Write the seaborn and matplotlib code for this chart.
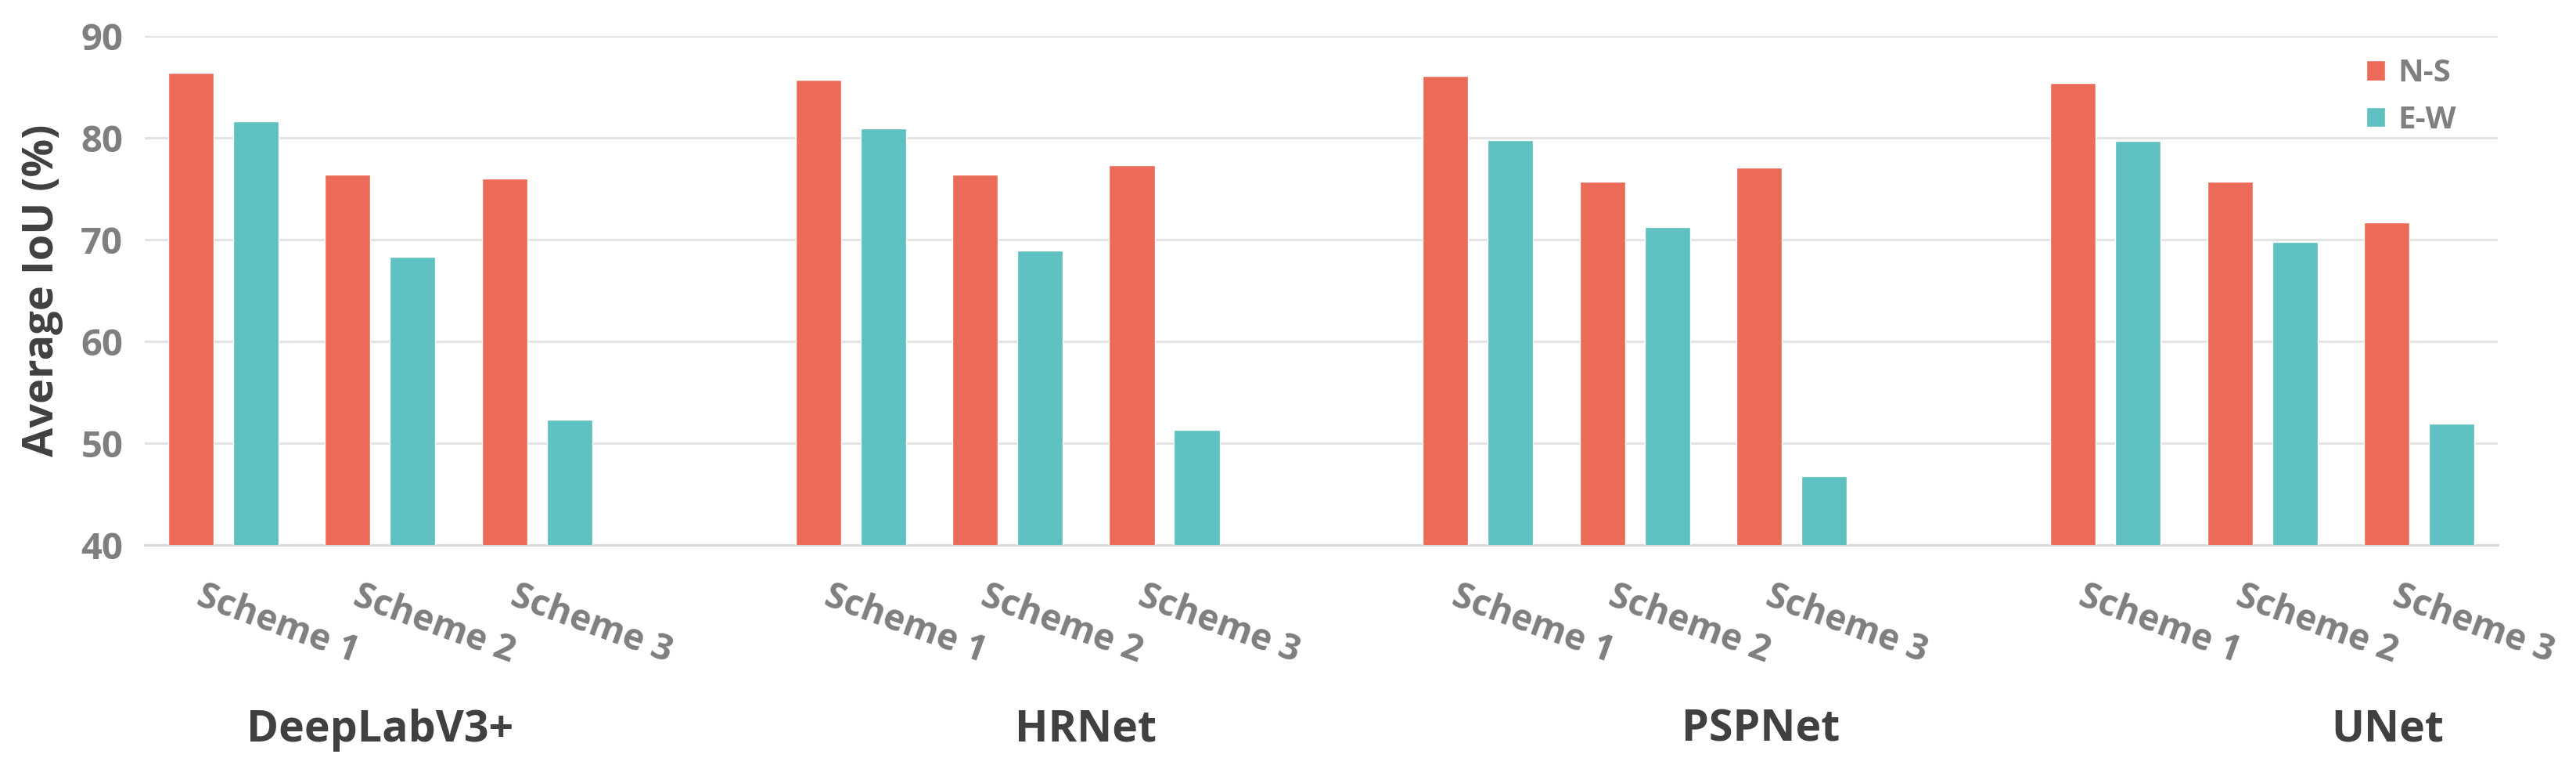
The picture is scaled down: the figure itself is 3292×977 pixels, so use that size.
import numpy as np
import pandas as pd
import seaborn as sns
import matplotlib.pyplot as plt
from matplotlib.transforms import ScaledTranslation, blended_transform_factory

# values
models = ['DeepLabV3+', 'HRNet', 'PSPNet', 'UNet']
schemes = ['Scheme 1', 'Scheme 2', 'Scheme 3']
ns_iou = [86.4, 76.4, 76.0,
          85.7, 76.4, 77.3,
          86.1, 75.7, 77.1,
          85.4, 75.7, 71.7]
ew_iou = [81.6, 68.3, 52.3,
          80.9, 68.9, 51.3,
          79.8, 71.2, 46.8,
          79.7, 69.8, 51.9]
model_label_pos = [1.0, 5.5, 9.8, 13.8]

# slot order: three schemes per model, an empty slot between models
order = []
tick_text = []
for i, m in enumerate(models):
    for s in schemes:
        order.append(m + ' ' + s)
        tick_text.append(s)
    if i < len(models) - 1:
        order.append('gap %d' % i)
        tick_text.append('')

keys = [m + ' ' + s for m in models for s in schemes]
df = pd.DataFrame({
    'slot': keys * 2,
    'dir': ['N-S'] * len(keys) + ['E-W'] * len(keys),
    'iou': ns_iou + ew_iou,
})

sns.set_theme(style='white')
plt.rcParams['font.family'] = ['Open Sans', 'DejaVu Sans']
plt.rcParams['font.weight'] = 'bold'

fig = plt.figure(figsize=(32.92, 9.77), dpi=100)
ax = fig.add_axes([0.0562, 0.2876, 0.9134, 0.6653])

sns.barplot(data=df, x='slot', y='iou', hue='dir', order=order,
            hue_order=['N-S', 'E-W'], palette=['#EB6B58', '#5EC0C0'],
            width=0.828, gap=0.3, saturation=1, ax=ax, zorder=3)

ax.set_ylim(40, 90)
ax.set_xlim(-0.5, len(order) - 0.5)
ax.set_yticks([40, 50, 60, 70, 80, 90])
ax.yaxis.grid(True, color='#e3e3e3', linewidth=2.2, zorder=0)
ax.set_axisbelow(True)
for sp in ['top', 'right', 'left']:
    ax.spines[sp].set_visible(False)
ax.spines['bottom'].set_color('#d9d9d9')
ax.spines['bottom'].set_linewidth(2.2)

ax.tick_params(axis='y', length=0, pad=20, labelsize=34, labelcolor='#7f7f7f')
ax.tick_params(axis='x', length=0, pad=30, labelsize=33, labelcolor='#7f7f7f')
ax.set_xticks(range(len(order)))
ax.set_xticklabels(tick_text, rotation=-20, ha='left', va='top',
                   rotation_mode='anchor', fontweight='bold')
for lab in ax.get_xticklabels():
    lab.set_transform(lab.get_transform() + ScaledTranslation(-0.24, 0, fig.dpi_scale_trans))
for lab in ax.get_yticklabels():
    lab.set_fontweight('bold')

ax.set_xlabel('')
ax.set_ylabel('Average IoU (%)', fontsize=39, fontweight='bold', color='#404040', labelpad=16)

trans = blended_transform_factory(ax.transData, fig.transFigure)
for name, xpos in zip(models, model_label_pos):
    ax.text(xpos, 0.046, name, transform=trans, ha='center', va='center',
            fontsize=40, fontweight='bold', color='#404040')

ax.legend(loc='upper left', bbox_to_anchor=(0.932, 1.012), frameon=False,
          handlelength=0.6, handleheight=0.6, handletextpad=0.4,
          labelspacing=0.5, labelcolor='#7f7f7f', prop={'weight': 'bold', 'size': 29})

fig.savefig('out.png', dpi=100, facecolor='white')
